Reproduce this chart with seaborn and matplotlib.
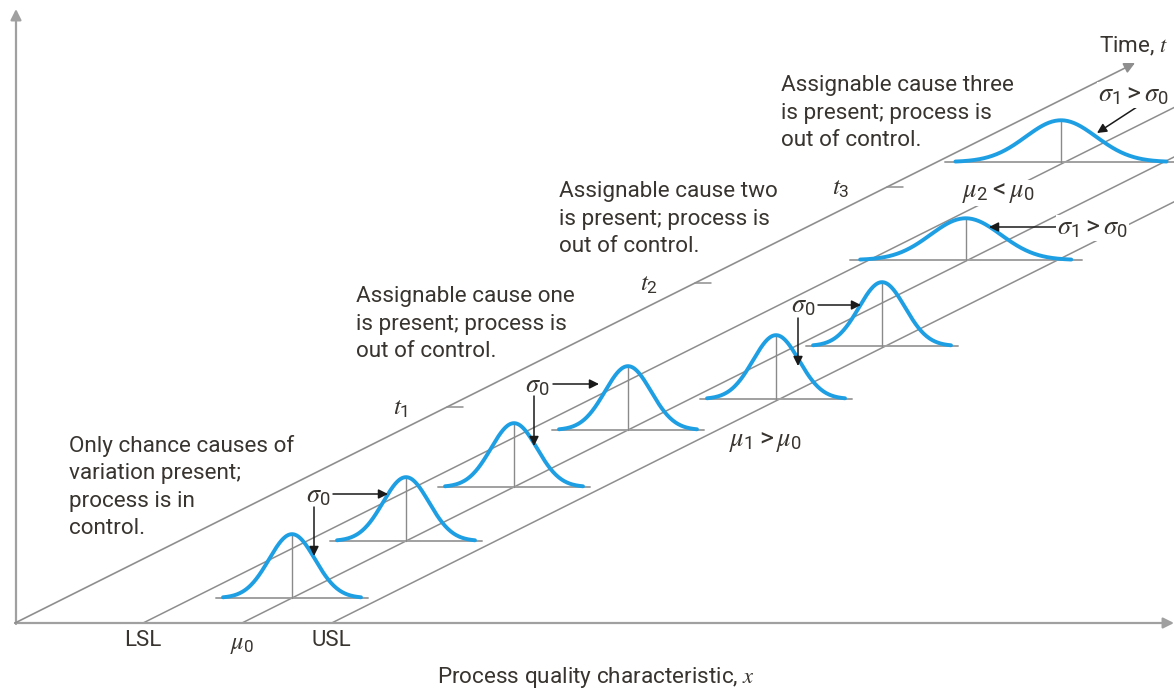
import numpy as np
import matplotlib
matplotlib.use("Agg")
import matplotlib.pyplot as plt
import seaborn as sns

# specification limits / target on the quality axis (units of sigma0)
spec_labels = ["LSL", r"$\mu_0$", "USL"]
spec_values = [-4.3, 0.0, 3.9]

# distribution snapshots along the time axis
snap_time = [0.25, 0.82, 1.36, 1.93, 2.24, 2.77, 3.63, 4.61]
snap_mean = [0.0, 0.0, 0.0, 0.0, 3.74, 3.74, -0.1, -4.48]
snap_sigma = [1.0, 1.0, 1.0, 1.0, 1.0, 1.0, 1.53, 1.53]

# time ticks
tick_labels = [r"$t_1$", r"$t_2$", r"$t_3$"]
tick_times = [2.16, 3.40, 4.36]

# text blocks
notes = [
    "Only chance causes of\nvariation present;\nprocess is in\ncontrol.",
    "Assignable cause one\nis present; process is\nout of control.",
    "Assignable cause two\nis present; process is\nout of control.",
    "Assignable cause three\nis present; process is\nout of control.",
]

# drawing scales (pixels)
X0, Y0 = 242, 623      # mu0 at t = 0
SX = 23                # px per sigma0 along quality axis
ST = 100               # px rise per time unit (run is 2x)
SH = 160               # px per unit of density

GRAY = "#8e8e8e"
AXGRAY = "#a0a0a0"
BLUE = "#1f9fe3"
INK = "#38342f"


def to_px(q, t, h=0.0):
    q = np.asarray(q, dtype=float)
    t = np.asarray(t, dtype=float)
    h = np.asarray(h, dtype=float)
    return X0 + SX * q + 2 * ST * t, Y0 - ST * t - SH * h


def pdf(z, s):
    return np.exp(-0.5 * (z / s) ** 2) / (s * np.sqrt(2 * np.pi))


def line(ax, x, y, **kw):
    sns.lineplot(x=x, y=y, ax=ax, sort=False, estimator=None, **kw)


sns.set_theme(style="white")
plt.rcParams["font.family"] = ["Roboto", "DejaVu Sans"]
plt.rcParams["mathtext.fontset"] = "custom"
plt.rcParams["mathtext.it"] = "STIXGeneral:italic"
plt.rcParams["mathtext.rm"] = "Roboto"

fig = plt.figure(figsize=(11.74, 6.91), dpi=100)
ax = fig.add_axes([0, 0, 1, 1])
ax.set_xlim(0, 1174)
ax.set_ylim(691, 0)
ax.axis("off")

# frame axes
ax.annotate("", xy=(16, 9), xytext=(16, 624),
            arrowprops=dict(arrowstyle="-|>", color=AXGRAY, lw=1.6,
                            mutation_scale=16, shrinkA=0, shrinkB=0))
ax.annotate("", xy=(1174, 623), xytext=(15, 623),
            arrowprops=dict(arrowstyle="-|>", color=AXGRAY, lw=1.6,
                            mutation_scale=16, shrinkA=0, shrinkB=0))

# time axis
q_orig = (15 - X0) / SX
t0 = to_px(q_orig, 0)
t1 = to_px(q_orig, 5.6)
ax.annotate("", xy=(float(t1[0]), float(t1[1])), xytext=(float(t0[0]), float(t0[1])),
            arrowprops=dict(arrowstyle="-|>", color=GRAY, lw=1.2,
                            mutation_scale=16, shrinkA=0, shrinkB=0))

# diagonal lines for LSL, mu0, USL
tt = np.array([0, 6.0])
for v, lab in zip(spec_values, spec_labels):
    px, py = to_px([v, v], tt)
    line(ax, px, py, color=GRAY, linewidth=1.1)
    yoff = 644 if "mu" in lab else 640
    ax.text(px[0], yoff, lab, ha="center", va="center",
            fontsize=17.5 if "mu" in lab else 16, color=INK)

# time ticks
for lab, tk in zip(tick_labels, tick_times):
    px, py = to_px([q_orig, q_orig + 0.7], [tk, tk])
    line(ax, px, py, color=GRAY, linewidth=1.1)
    ax.text(px[0] - 46, py[0] + 1, lab, ha="center", va="center", fontsize=18, color=INK)

# distributions
for t, m, s in zip(snap_time, snap_mean, snap_sigma):
    z = np.linspace(-3 * s, 3 * s, 200)
    bx, by = to_px([m - 3.3 * s, m + 3.3 * s], [t, t])
    line(ax, bx, by, color=AXGRAY, linewidth=1.4)
    vx, vy = to_px([m, m], [t, t], [0, pdf(0, s)])
    line(ax, vx, vy, color="#8a8a8a", linewidth=1.0)
    cx, cy = to_px(m + z, np.full_like(z, t), pdf(z, s))
    line(ax, cx, cy, color=BLUE, linewidth=2.8)

# annotations
arrow = dict(arrowstyle="-|>", color="#1a1a1a", lw=1.1, mutation_scale=14,
             shrinkA=0, shrinkB=0)
for (lx, ly), right, down in [((318, 496), ((333, 494), (388, 494)), ((314, 507), (314, 556))),
                              ((537, 386), ((553, 384), (599, 384)), ((534, 396), (534, 446))),
                              ((803, 306), ((818, 305), (861, 305)), ((798, 318), (798, 366)))]:
    ax.text(lx, ly, r"$\sigma_0$", ha="center", va="center", fontsize=19, color=INK)
    ax.annotate("", xy=right[1], xytext=right[0], arrowprops=arrow)
    ax.annotate("", xy=down[1], xytext=down[0], arrowprops=arrow)

ax.annotate("", xy=(989, 227), xytext=(1056, 227), arrowprops=arrow)
ax.text(1057, 228, r"$\sigma_1 > \sigma_0$", ha="left", va="center", fontsize=19, color=INK,
        bbox=dict(facecolor="white", edgecolor="none", pad=1))
ax.annotate("", xy=(1097, 133), xytext=(1140, 105), arrowprops=arrow)
ax.text(1098, 95, r"$\sigma_1 > \sigma_0$", ha="left", va="center", fontsize=19, color=INK,
        bbox=dict(facecolor="white", edgecolor="none", pad=1))
ax.text(765, 442, r"$\mu_1 > \mu_0$", ha="center", va="center", fontsize=19, color=INK)
ax.text(998, 193, r"$\mu_2 < \mu_0$", ha="center", va="center", fontsize=19, color=INK,
        bbox=dict(facecolor="white", edgecolor="none", pad=1))

# note blocks
for (nx, ny), txt in zip([(69, 487), (356, 324), (559, 219), (781, 113)], notes):
    ax.text(nx, ny, txt, ha="left", va="center", fontsize=16.2, color=INK, linespacing=1.4)

ax.text(1099, 46, r"Time, $t$", ha="left", va="center", fontsize=16.2, color=INK)
ax.text(596, 678, r"Process quality characteristic, $x$", ha="center", va="center",
        fontsize=16.2, color=INK)

fig.savefig("out.png", dpi=100)
